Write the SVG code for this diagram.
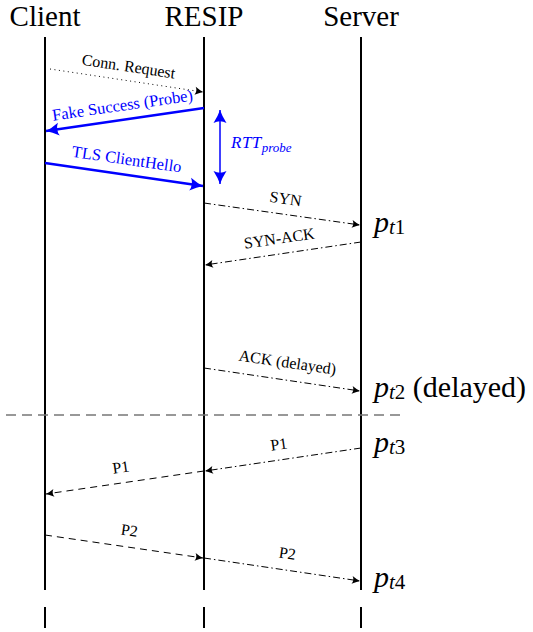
<svg xmlns="http://www.w3.org/2000/svg" width="533" height="632" viewBox="0 0 533 632" font-family="'Liberation Serif', 'Times New Roman', 'DejaVu Serif', serif">
<style>
text{font-family:'Liberation Serif','Times New Roman','DejaVu Serif',serif;fill:#000}
.hdr{font-size:29px;text-anchor:middle}
.lbl{font-size:16px;text-anchor:middle}
.blbl{font-size:16.5px;text-anchor:middle;fill:#0000ff}
.life{stroke:#000;stroke-width:2;fill:none}
.msg{stroke:#000;stroke-width:1;fill:none;marker-end:url(#ah)}
.dot{stroke-dasharray:1 3.5}
.dd{stroke-dasharray:7 3 1.5 3}
.dash{stroke-dasharray:7 5}
.blue{stroke:#0000ff;stroke-width:2.5;fill:none;marker-end:url(#bh)}
.pt{font-size:30px;font-style:italic}
</style>
<defs>
<marker id="ah" viewBox="-10 -6 12 12" refX="0" refY="0" markerWidth="12" markerHeight="12" markerUnits="userSpaceOnUse" orient="auto">
<path d="M0,0 Q-4,-1.5 -8,-4 Q-5.5,0 -8,4 Q-4,1.5 0,0 Z" fill="#000"/>
</marker>
<marker id="bh" viewBox="-15 -8 17 16" refX="0" refY="0" markerWidth="17" markerHeight="16" markerUnits="userSpaceOnUse" orient="auto-start-reverse">
<path d="M0,0 Q-6,-2 -13,-6.5 Q-9.5,0 -13,6.5 Q-6,2 0,0 Z" fill="#0000ff"/>
</marker>
</defs>
<g id="client"><text class="hdr" x="45" y="26">Client</text><line class="life" x1="45" y1="37" x2="45" y2="590"/><line class="life" x1="45" y1="607" x2="45" y2="628"/></g>
<g id="resip"><text class="hdr" x="204" y="26">RESIP</text><line class="life" x1="204" y1="37" x2="204" y2="590"/><line class="life" x1="204" y1="607" x2="204" y2="628"/></g>
<g id="server"><text class="hdr" x="361" y="26">Server</text><line class="life" x1="361" y1="37" x2="361" y2="590"/><line class="life" x1="361" y1="607" x2="361" y2="628"/></g>
<g id="divider"><line x1="6" y1="415" x2="400" y2="415" stroke="#777" stroke-width="1.5" stroke-dasharray="10 6"/></g>
<g id="connectors">
<line class="msg dot" x1="50" y1="69" x2="203" y2="92"/>
<line class="blue" x1="204" y1="108" x2="46" y2="131"/>
<line class="blue" x1="45" y1="163" x2="203" y2="186"/>
<line stroke="#0000ff" stroke-width="1.5" x1="220" y1="110" x2="220" y2="184" marker-start="url(#bh)" marker-end="url(#bh)"/>
<line class="msg dd" x1="204" y1="203" x2="360" y2="225"/>
<line class="msg dd" x1="361" y1="242" x2="205" y2="265"/>
<line class="msg dd" x1="204" y1="368" x2="360" y2="391"/>
<line class="msg dd" x1="361" y1="448" x2="205" y2="471"/>
<line class="msg dash" x1="204" y1="471" x2="46" y2="494"/>
<line class="msg dash" x1="45" y1="535" x2="203" y2="558"/>
<line class="msg dd" x1="204" y1="558" x2="360" y2="581"/>
</g>
<g id="labels">
<text class="lbl" transform="translate(126.5,80.5) rotate(8.5)" y="-9">Conn. Request</text>
<text class="blbl" transform="translate(124.5,119.5) rotate(-8.2)" y="-9">Fake Success (Probe)</text>
<text class="blbl" transform="translate(124.5,174.5) rotate(8.2)" y="-10">TLS ClientHello</text>
<text x="231" y="148" font-size="17" font-style="italic" style="fill:#0000ff" letter-spacing="0.5">RTT<tspan font-size="13" dy="4" letter-spacing="0">probe</tspan></text>
<text class="lbl" transform="translate(283.5,214) rotate(8.2)" y="-10">SYN</text>
<text class="lbl" transform="translate(281.5,253.5) rotate(-8.3)" y="-10">SYN-ACK</text>
<text class="lbl" transform="translate(285,379.5) rotate(8.3)" y="-12">ACK (delayed)</text>
<text class="lbl" transform="translate(281,459.5) rotate(-8.3)" y="-10">P1</text>
<text class="lbl" transform="translate(123,482.5) rotate(-8.3)" y="-10">P1</text>
<text class="lbl" transform="translate(127,546.5) rotate(8.2)" y="-11">P2</text>
<text class="lbl" transform="translate(285,569.5) rotate(8.3)" y="-11">P2</text>
<text class="pt" x="374" y="232">p<tspan font-size="21" dy="2">t</tspan><tspan font-size="21" font-style="normal">1</tspan></text>
<text class="pt" x="374" y="397">p<tspan font-size="21" dy="2">t</tspan><tspan font-size="21" font-style="normal">2</tspan><tspan font-style="normal" dy="-2"> (delayed)</tspan></text>
<text class="pt" x="374" y="452">p<tspan font-size="21" dy="2">t</tspan><tspan font-size="21" font-style="normal">3</tspan></text>
<text class="pt" x="374" y="587">p<tspan font-size="21" dy="2">t</tspan><tspan font-size="21" font-style="normal">4</tspan></text>
</g>
</svg>
